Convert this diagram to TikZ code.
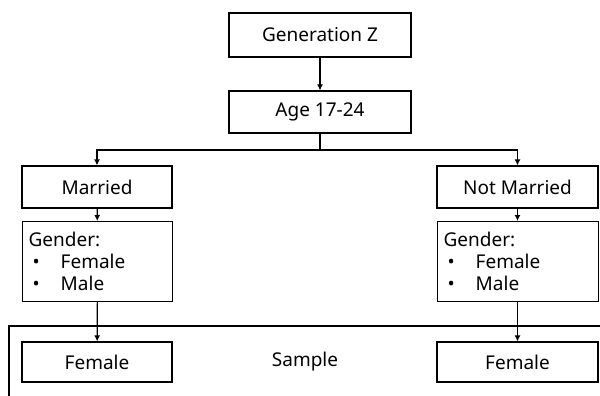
\documentclass[tikz,border=0pt]{standalone}
\usepackage{fontspec}
\setmainfont{Noto Sans}
\usetikzlibrary{arrows.meta}
\begin{document}
\begin{tikzpicture}[x=1pt,y=-1pt,
  box/.style={draw, line width=1.2pt, inner sep=0pt, font=\fontsize{19}{22}\selectfont},
  arr/.style={-{Latex[length=6pt,width=6pt]}, line width=1.2pt},
  ln/.style={line width=1.2pt}]
\useasboundingbox (0,0) rectangle (600,396);
\node[box, minimum width=182, minimum height=44] (gz) at (320,35) {Generation Z};
\node[box, minimum width=182, minimum height=42] (age) at (320,112) {Age 17-24};
\node[box, minimum width=150, minimum height=42] (mar) at (97,187) {Married};
\node[box, minimum width=161, minimum height=42] (nmar) at (517.5,187) {Not Married};
\node[box, minimum width=150, minimum height=80, anchor=north west, align=left, text width=138, inner xsep=6pt] (gl) at (22,221) {Gender:\\\hspace*{4pt}\textbullet\hspace{21pt}Female\\\hspace*{4pt}\textbullet\hspace{21pt}Male};
\node[box, minimum width=161, minimum height=80, anchor=north west, align=left, text width=149, inner xsep=6pt] (gr) at (437,221) {Gender:\\\hspace*{4pt}\textbullet\hspace{21pt}Female\\\hspace*{4pt}\textbullet\hspace{21pt}Male};
\node[box, minimum width=150, minimum height=40] (fl) at (97,362) {Female};
\node[box, minimum width=161, minimum height=40] (fr) at (517.5,362) {Female};
\node[font=\fontsize{19}{22}\selectfont] (sample) at (305,362) {Sample};
\coordinate (split) at (320,150);
\coordinate (tl) at (9,326);
\coordinate (tr) at (600,326);
\coordinate (bl) at (9,396);
\draw[arr] (gz) -- (age);
\draw[ln] (age) -- (split);
\draw[arr] (split) -| (mar.north);
\draw[arr] (split) -| (nmar.north);
\draw[arr] (mar) -- (gl);
\draw[arr] (nmar) -- (gr.north -| nmar.south);
\draw[arr] (gl) -- (fl);
\draw[arr] (gr.south -| fr.north) -- (fr);
\draw[ln] (bl) -- (tl) -- (tr);
\end{tikzpicture}
\end{document}
